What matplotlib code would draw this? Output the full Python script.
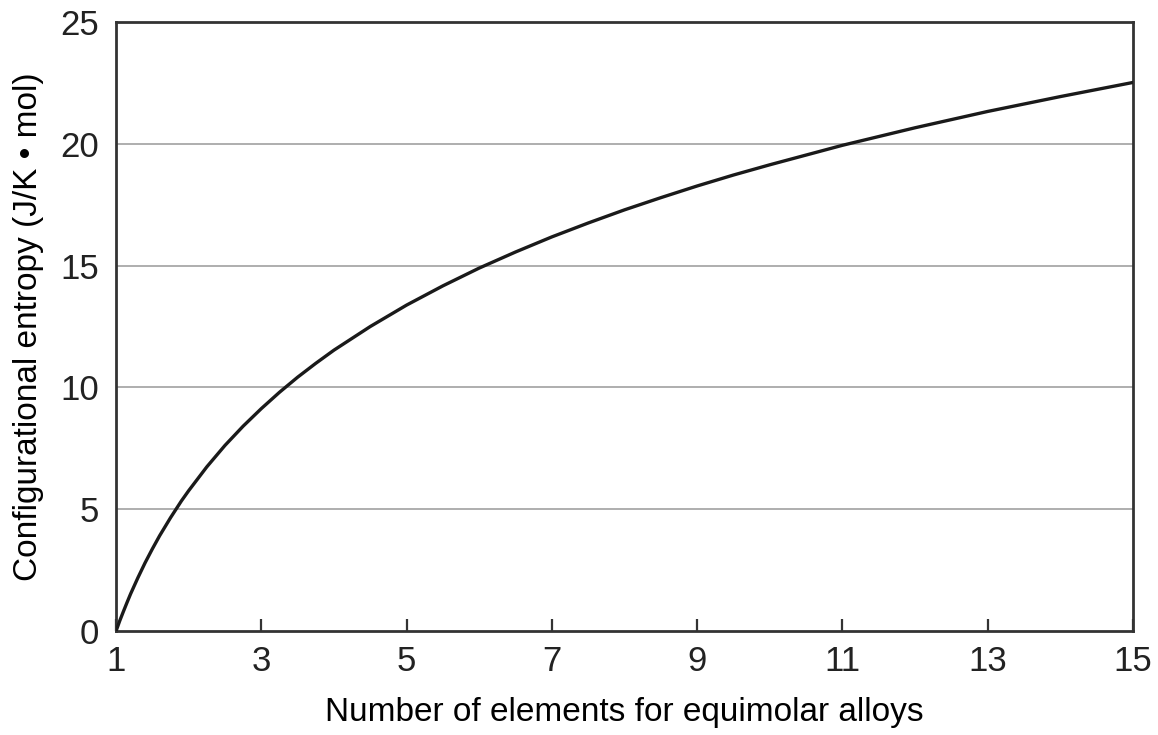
"""Configurational entropy of equimolar alloys versus number of elements."""

import matplotlib as mpl
import matplotlib.pyplot as plt

# number of elements and entropy values (J/K·mol) along the curve
n_elements = [1, 1.02, 1.05, 1.1, 1.15, 1.2, 1.3, 1.4, 1.5, 1.6, 1.75, 1.9, 2, 2.25, 2.5, 2.75, 3,
              3.25, 3.5, 3.75, 4, 4.5, 5, 5.5, 6, 6.5, 7, 7.5, 8, 8.5, 9, 9.5, 10, 11, 12, 13, 14, 15]
entropy = [0, 0.16, 0.41, 0.79, 1.16, 1.52, 2.18, 2.80, 3.37, 3.91, 4.65, 5.34, 5.76, 6.74, 7.62,
           8.41, 9.13, 9.80, 10.42, 10.99, 11.53, 12.50, 13.38, 14.17, 14.90, 15.56, 16.18, 16.75,
           17.29, 17.79, 18.27, 18.72, 19.14, 19.94, 20.66, 21.33, 21.94, 22.52]

x_ticks = [1, 3, 5, 7, 9, 11, 13, 15]
y_ticks = [0, 5, 10, 15, 20, 25]

mpl.rcParams.update(
    {
        "font.family": ["Liberation Sans", "DejaVu Sans"],
        "figure.facecolor": "white",
        "axes.facecolor": "white",
        "text.color": "#222222",
        "xtick.color": "#222222",
        "ytick.color": "#222222",
    }
)

fig = plt.figure(figsize=(11.58, 7.35), dpi=100)
ax = fig.add_axes([0.1002, 0.1415, 0.8782, 0.8285])

for y in y_ticks[1:-1]:
    ax.axhline(y, color="#a8a8a8", lw=1.3, zorder=1)

ax.plot(n_elements, entropy, color="#1a1a1a", lw=2.4, zorder=3,
        solid_capstyle="round", solid_joinstyle="round")

ax.set_xlim(1, 15)
ax.set_ylim(0, 25)
ax.set_xticks(x_ticks)
ax.set_yticks(y_ticks)
ax.tick_params(axis="x", direction="in", length=9, width=1.6, labelsize=25, pad=10, color="#333333")
ax.tick_params(axis="y", length=0, labelsize=25, pad=12)
for sp in ax.spines.values():
    sp.set_linewidth(2.0)
    sp.set_color("#333333")

ax.set_xlabel("Number of elements for equimolar alloys", fontsize=24, labelpad=14)
ax.set_ylabel("Configurational entropy (J/K \u2022 mol)", fontsize=24, labelpad=12)

fig.savefig("out.png", dpi=100)
